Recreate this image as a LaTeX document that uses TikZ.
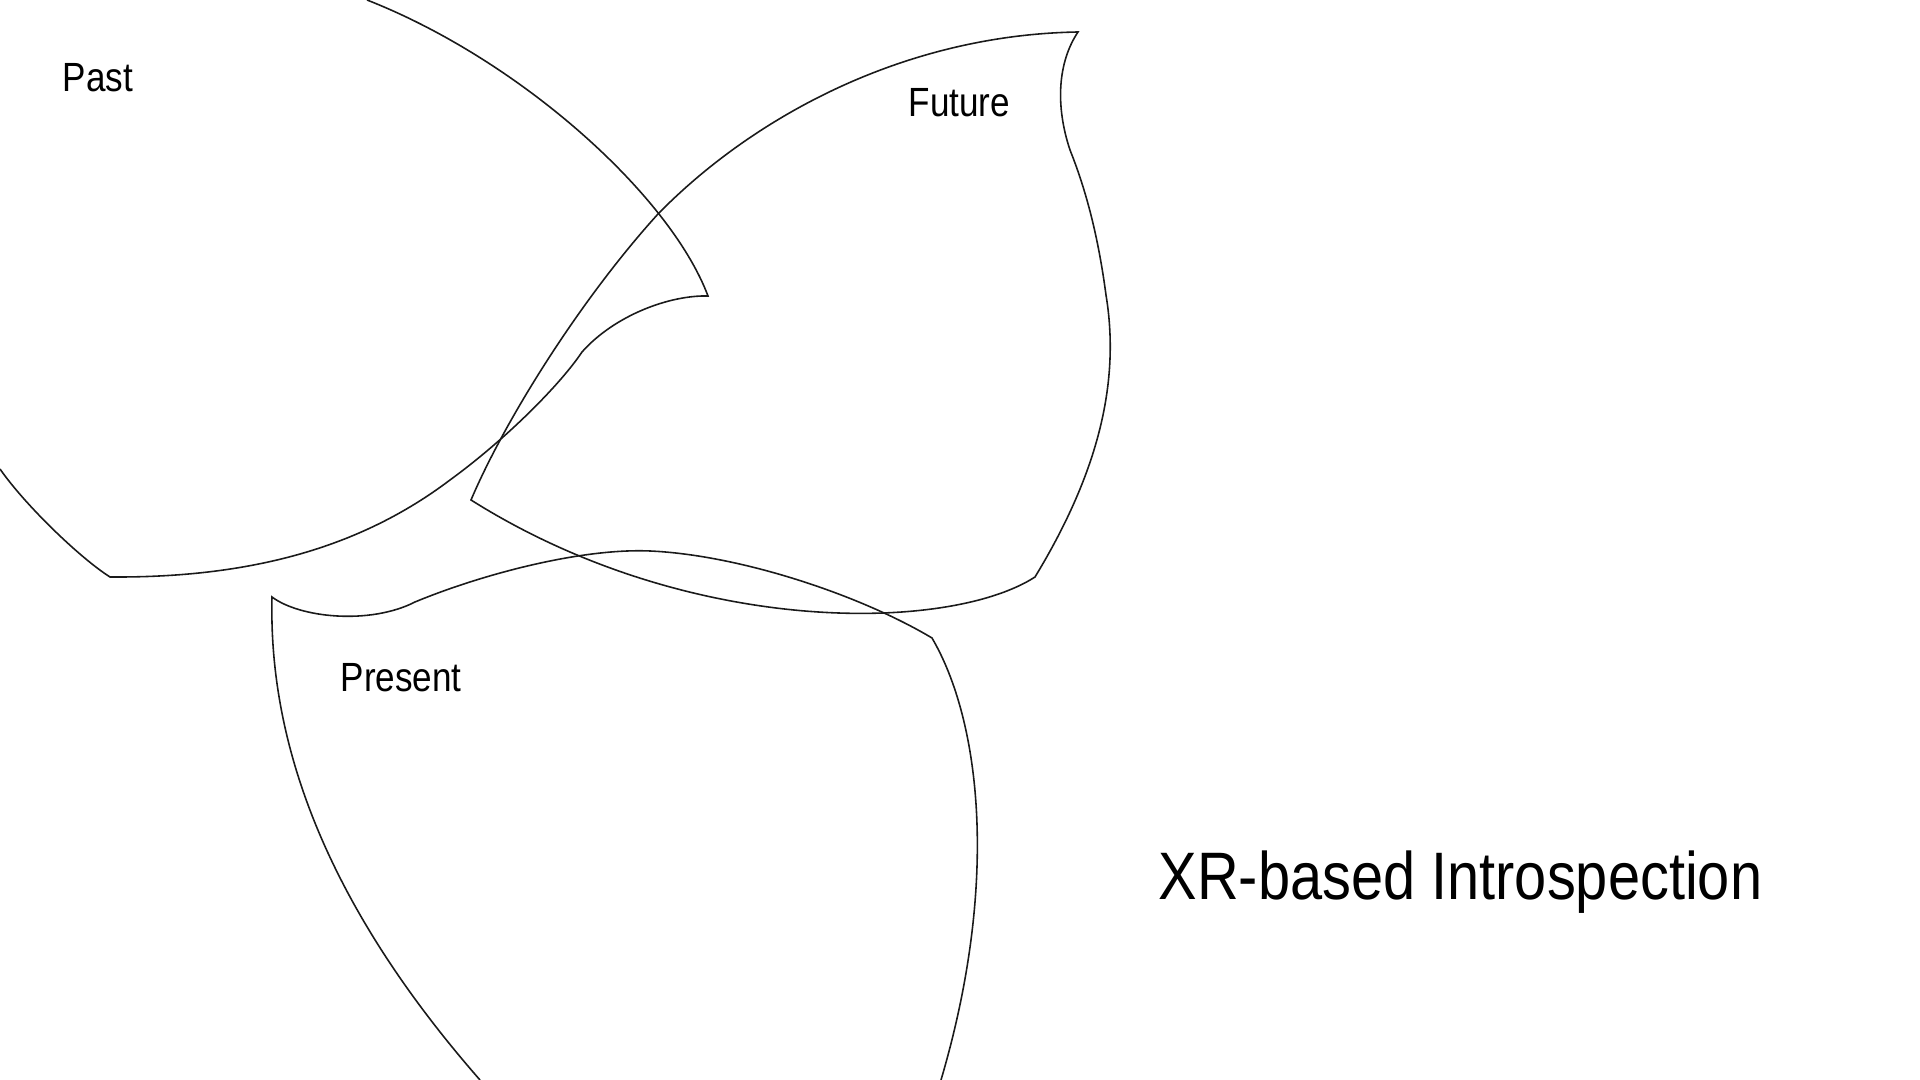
\documentclass[tikz,border=0pt]{standalone}
\usepackage{fontspec}
\setmainfont[FakeStretch=0.86]{Liberation Sans}
\usepackage{xcolor}
\usepackage{tikz}
\usetikzlibrary{positioning}
\definecolor{inkgray}{HTML}{1A1A1A}
\tikzset{
  petal/.style={draw=inkgray, line width=0.45pt, line join=miter},
  tag/.style={inner sep=0pt, anchor=base west, font=\fontsize{11.6}{13}\selectfont},
  headline/.style={inner sep=0pt, anchor=base west, font=\fontsize{19.1}{22}\selectfont}
}

\begin{document}
\begin{tikzpicture}[x=0.01cm,y=-0.01cm]
  \useasboundingbox (0,0) rectangle (1920,1080);
  % past
  \draw[petal] (367,0) .. controls (520,60) and (670,195) .. (708,296)
    .. controls (670,295) and (615,315) .. (582,352)
    .. controls (560,385) and (505,440) .. (450,480)
    .. controls (360,548) and (250,578) .. (110,577)
    .. controls (80,558) and (25,505) .. (0,469);
  % future
  \draw[petal] (1078,32) .. controls (1058,62) and (1055,105) .. (1070,150)
    .. controls (1090,200) and (1100,250) .. (1106,295)
    .. controls (1120,380) and (1100,470) .. (1035,577)
    .. controls (950,632) and (690,638) .. (471,500)
    .. controls (505,420) and (580,300) .. (658,214)
    .. controls (750,120) and (900,35) .. cycle;
  % present
  \draw[petal] (480,1080) .. controls (340,920) and (268,760) .. (272,597)
    .. controls (300,618) and (370,625) .. (415,602)
    .. controls (480,575) and (580,548) .. (650,551)
    .. controls (740,555) and (860,595) .. (932,638)
    .. controls (980,720) and (1000,880) .. (941,1080);
  \node[tag] (past) at (62,92) {Past};
  \node[tag] (future) at (908,117) {Future};
  \node[tag] (present) at (340,692) {Present};
  \node[headline] (title) at (1158,900) {XR-based Introspection};
\end{tikzpicture}
\end{document}
